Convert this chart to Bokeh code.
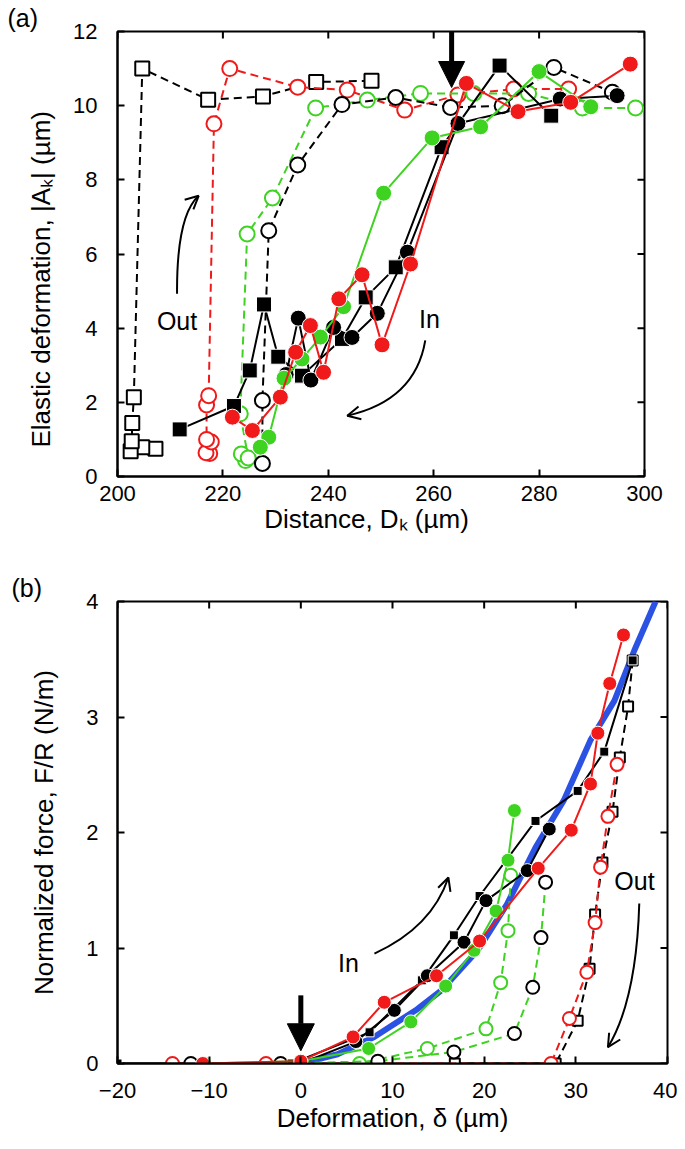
from bokeh.plotting import figure
from bokeh.models import Label, Arrow, NormalHead, OpenHead, FixedTicker, Range1d
from bokeh.layouts import column
from bokeh.embed import file_html
from bokeh.resources import INLINE

# ---------------- data: panel (a) ----------------
a_x_ticks = [200, 220, 240, 260, 280, 300]
a_y_ticks = [0, 2, 4, 6, 8, 10, 12]

# In (filled, solid)
a_bsq_in_D = [282.3, 272.5, 261.5, 252.8, 247.1, 242.6, 235.0, 230.5, 227.8, 225.1, 222.1, 211.8]
a_bsq_in_A = [9.73, 11.08, 8.88, 5.64, 4.83, 3.71, 2.72, 3.23, 4.64, 2.86, 1.90, 1.27]
a_bci_in_D = [294.8, 284.0, 264.6, 255.0, 249.3, 244.5, 241.0, 236.7, 234.3, 232.0]
a_bci_in_A = [10.27, 10.18, 9.52, 6.05, 4.40, 3.75, 4.02, 2.60, 4.27, 2.75]
a_red_in_D = [297.3, 286.0, 276.0, 266.2, 255.6, 250.2, 246.4, 242.0, 239.1, 236.6, 233.8, 230.9, 225.6, 221.8]
a_red_in_A = [11.12, 10.09, 9.84, 10.60, 5.73, 3.55, 5.44, 4.79, 2.81, 4.07, 3.35, 2.14, 1.24, 1.60]
a_grn_in_D = [289.8, 280.0, 268.9, 259.7, 250.5, 242.9, 238.5, 235.0, 231.6, 228.7, 227.1]
a_grn_in_A = [9.97, 10.92, 9.43, 9.13, 7.64, 4.58, 3.76, 3.17, 2.65, 1.06, 0.79]
# Out (open, dashed)
a_bsq_out_D = [207.2, 204.7, 202.5, 202.7, 202.8, 203.1, 204.7, 217.2, 227.6, 237.7, 248.2]
a_bsq_out_A = [0.75, 0.79, 0.68, 0.95, 1.44, 2.14, 11.00, 10.16, 10.25, 10.64, 10.67]
a_red_out_D = [217.5, 216.8, 217.8, 216.9, 216.9, 217.3, 218.3, 221.3, 234.2, 243.6, 254.5, 264.6, 275.2, 285.6]
a_red_out_A = [0.62, 0.64, 0.93, 1.00, 1.93, 2.18, 9.51, 11.00, 10.50, 10.42, 9.88, 10.29, 10.45, 10.45]
a_grn_out_D = [224.3, 223.5, 224.8, 223.3, 224.6, 229.4, 237.6, 247.4, 257.5, 267.6, 278.0, 288.2, 298.3]
a_grn_out_A = [0.43, 0.61, 0.50, 1.69, 6.54, 7.51, 9.94, 10.15, 10.33, 10.33, 10.33, 9.94, 9.94]
a_bci_out_D = [227.5, 227.5, 228.7, 234.2, 242.6, 252.8, 263.2, 273.0, 282.8, 293.9]
a_bci_out_A = [0.35, 2.05, 6.63, 8.40, 10.03, 10.22, 9.95, 10.00, 11.03, 10.36]

# ---------------- data: panel (b) ----------------
b_x_ticks = [-20, -10, 0, 10, 20, 30, 40]
b_y_ticks = [0, 1, 2, 3, 4]

b_blue_d = [0.0, 4.0, 8.0, 12.7, 15.3, 19.3, 22.5, 25.6, 28.7, 31.6, 34.2, 36.4, 38.7]
b_blue_F = [0.0, 0.08, 0.23, 0.47, 0.63, 0.98, 1.38, 1.87, 2.28, 2.80, 3.14, 3.58, 4.00]

b_bsq_in_d = [-20.0, -10.5, -1.0, 7.5, 13.2, 16.7, 19.5, 25.6, 30.2, 33.1, 36.2]
b_bsq_in_F = [0.0, 0.0, 0.0, 0.27, 0.72, 1.11, 1.45, 2.10, 2.36, 2.70, 3.49]
b_bci_in_d = [0.0, 6.0, 10.2, 13.8, 17.8, 20.2, 24.7, 27.1]
b_bci_in_F = [0.0, 0.19, 0.46, 0.76, 1.05, 1.41, 1.67, 2.03]
b_red_in_d = [-10.7, 0.0, 5.7, 9.1, 14.8, 19.5, 25.9, 29.5, 31.6, 32.4, 33.7, 35.2]
b_red_in_F = [0.0, 0.02, 0.23, 0.53, 0.76, 1.06, 1.69, 2.02, 2.42, 2.86, 3.29, 3.71]
b_grn_in_d = [-10.5, 0.0, 7.4, 12.0, 15.8, 18.9, 21.3, 22.6, 23.3]
b_grn_in_F = [0.0, 0.02, 0.13, 0.36, 0.67, 0.98, 1.32, 1.76, 2.19]

b_grn_out_d = [22.9, 22.6, 21.8, 20.2, 13.8, 6.4]
b_grn_out_F = [1.63, 1.15, 0.70, 0.30, 0.13, 0.0]
b_bci_out_d = [26.7, 26.2, 25.3, 23.3, 16.7, 8.4, -2.2, -12.0]
b_bci_out_F = [1.57, 1.09, 0.66, 0.26, 0.10, 0.02, 0.0, 0.0]
b_red_out_d = [34.5, 33.5, 32.7, 32.1, 31.2, 29.3, 27.3, -3.8, -14.0]
b_red_out_F = [2.59, 2.14, 1.70, 1.22, 0.79, 0.39, 0.0, 0.0, 0.0]
b_bsq_out_d = [36.2, 35.7, 34.8, 34.0, 32.9, 32.1, 31.5, 30.2, 27.8, 16.8]
b_bsq_out_F = [3.49, 3.09, 2.65, 2.18, 1.74, 1.29, 0.82, 0.37, 0.0, 0.0]

# ---------------- style ----------------
RED = "#f01a1a"
GREEN = "#3ed321"
BLUE = "#2b52e3"
BLACK = "#000000"
FONT = "Liberation Sans"
DASH = "8 5"
TICK = 7
NB = "\u00a0"

# page-pixel frames (left, right, top, bottom)
A_FR = (117, 644, 31, 476)
B_FR = (113, 663, 601, 1063)
PAGE_W = 677
A_H = 568          # height of figure (a)
B_H = 1145 - A_H   # height of figure (b)


def panel(fr, fig_top, fig_h, xr, yr, xticks, yticks, xstand, ystand,
          xlabel, ylabel, xl_stand, yl_stand, tag):
    L, R, T, B = fr
    p = figure(frame_width=R - L, frame_height=B - T, x_range=Range1d(*xr), y_range=Range1d(*yr),
               output_backend="svg", toolbar_location=None,
               min_border_left=L, min_border_top=T - fig_top, min_border_right=PAGE_W - R,
               min_border_bottom=fig_h - (B - fig_top))
    p.grid.visible = False
    p.outline_line_color = "black"
    p.outline_line_width = 2
    p.xaxis.ticker = FixedTicker(ticks=xticks)
    p.yaxis.ticker = FixedTicker(ticks=yticks)
    p.xaxis.major_label_standoff = xstand
    p.yaxis.major_label_standoff = ystand
    p.xaxis.axis_label = xlabel
    p.yaxis.axis_label = ylabel
    p.xaxis.axis_label_standoff = xl_stand
    p.yaxis.axis_label_standoff = yl_stand
    for ax in p.axis:
        ax.axis_line_width = 2
        ax.axis_line_color = "black"
        ax.major_tick_in = TICK
        ax.major_tick_out = 0
        ax.major_tick_line_width = 2
        ax.minor_tick_line_color = None
        ax.major_label_text_font = FONT
        ax.major_label_text_font_size = "22px"
        ax.major_label_text_color = "black"
        ax.axis_label_text_font = FONT
        ax.axis_label_text_font_size = "26px"
        ax.axis_label_text_font_style = "normal"
        ax.axis_label_text_color = "black"
    # panel tag "(a)" / "(b)" as the figure title, pulled to the page's left edge
    p.title.text = tag
    p.title.align = "left"
    p.title.offset = 7 - L
    p.title.standoff = 0
    p.title.text_font = FONT
    p.title.text_font_size = "25px"
    p.title.text_font_style = "normal"
    p.title.text_color = "black"
    # mirror ticks on the top and right edges of the frame
    dy = TICK * (yr[1] - yr[0]) / (B - T)
    dx = TICK * (xr[1] - xr[0]) / (R - L)
    p.segment(x0=xticks, y0=[yr[1]] * len(xticks), x1=xticks, y1=[yr[1] - dy] * len(xticks),
              line_color="black", line_width=2)
    p.segment(x0=[xr[1]] * len(yticks), y0=yticks, x1=[xr[1] - dx] * len(yticks), y1=yticks,
              line_color="black", line_width=2)
    return p


def series(p, xs, ys, color, marker, filled, dash, size, line_color=None, lw=2):
    p.line(xs, ys, line_color=line_color or color, line_width=lw, line_dash=dash)
    if filled:
        p.scatter(xs, ys, marker=marker, size=size, fill_color=color, line_color="white", line_width=1)
    else:
        p.scatter(xs, ys, marker=marker, size=size, fill_color="white", line_color=color, line_width=2)


def curved_arrow(p, x0, y0, cx, cy, x1, y1, head=13):
    p.quadratic(x0=[x0], y0=[y0], cx=[cx], cy=[cy], x1=[x1], y1=[y1], line_color="black", line_width=2)
    xs = x1 - 0.04 * (x1 - cx)
    ys = y1 - 0.04 * (y1 - cy)
    p.add_layout(Arrow(end=OpenHead(size=head, line_width=2, line_color="black"),
                       x_start=xs, y_start=ys, x_end=x1, y_end=y1, line_width=2, line_color="black"))


def text(p, x, y, s, size=25):
    p.add_layout(Label(x=x, y=y, text=s, text_font=FONT, text_font_size=f"{size}px",
                       text_align="center", text_baseline="middle", text_color="black"))


# ================= panel (a) =================
a_xr, a_yr = (200, 300), (0, 12)
pa = panel(A_FR, 0, A_H, a_xr, a_yr, a_x_ticks, a_y_ticks, 9, 20,
           "Distance, D\u2096 (µm)" + NB * 4,
           "Elastic deformation, |A\u2096| (µm)" + NB * 7,
           0, 14, "(a)")

series(pa, a_bsq_out_D, a_bsq_out_A, BLACK, "square", False, DASH, 14)
series(pa, a_red_out_D, a_red_out_A, RED, "circle", False, DASH, 15)
series(pa, a_grn_out_D, a_grn_out_A, GREEN, "circle", False, DASH, 15)
series(pa, a_bci_out_D, a_bci_out_A, BLACK, "circle", False, DASH, 15)
series(pa, a_bsq_in_D, a_bsq_in_A, BLACK, "square", True, "solid", 15)
series(pa, a_bci_in_D, a_bci_in_A, BLACK, "circle", True, "solid", 16)
series(pa, a_grn_in_D, a_grn_in_A, GREEN, "circle", True, "solid", 16)
series(pa, a_red_in_D, a_red_in_A, RED, "circle", True, "solid", 16)

pa.add_layout(Arrow(end=NormalHead(size=26, fill_color="black", line_color="black", line_width=1),
                    x_start=263.4, y_start=12.0, x_end=263.4, y_end=10.49,
                    line_width=5, line_color="black"))
curved_arrow(pa, 211.3, 4.93, 211.2, 7.03, 215.4, 7.57)
curved_arrow(pa, 258.4, 3.67, 256.5, 2.05, 243.6, 1.64)
text(pa, 211.3, 4.18, "Out")
text(pa, 259.2, 4.26, "In")

# ================= panel (b) =================
b_xr, b_yr = (-20, 40), (0, 4)
pb = panel(B_FR, A_H, B_H, b_xr, b_yr, b_x_ticks, b_y_ticks, 19, 19,
           "Deformation, δ (µm)", "Normalized force, F/R (N/m)", 2, 24, "(b)")

pb.line(b_blue_d, b_blue_F, line_color=BLUE, line_width=6)
series(pb, b_bsq_out_d, b_bsq_out_F, BLACK, "square", False, DASH, 10)
series(pb, b_red_out_d, b_red_out_F, RED, "circle", False, DASH, 13)
series(pb, b_grn_out_d, b_grn_out_F, GREEN, "circle", False, DASH, 13)
series(pb, b_bci_out_d, b_bci_out_F, BLACK, "circle", False, DASH, 13, line_color=GREEN)
series(pb, b_bsq_in_d, b_bsq_in_F, BLACK, "square", True, "solid", 9)
series(pb, b_bci_in_d, b_bci_in_F, BLACK, "circle", True, "solid", 14)
series(pb, b_grn_in_d, b_grn_in_F, GREEN, "circle", True, "solid", 14)
series(pb, b_red_in_d, b_red_in_F, RED, "circle", True, "solid", 14)

pb.add_layout(Arrow(end=NormalHead(size=27, fill_color="black", line_color="black", line_width=1),
                    x_start=0.0, y_start=0.59, x_end=0.0, y_end=0.11,
                    line_width=5, line_color="black"))
curved_arrow(pb, 8.03, 0.952, 14.27, 1.177, 16.1, 1.61)
curved_arrow(pb, 36.92, 1.385, 36.6, 0.545, 33.5, 0.141)
text(pb, 5.2, 0.87, "In")
text(pb, 36.4, 1.58, "Out")

layout = column(pa, pb, spacing=0)
open("out.html", "w").write(file_html(layout, INLINE))
